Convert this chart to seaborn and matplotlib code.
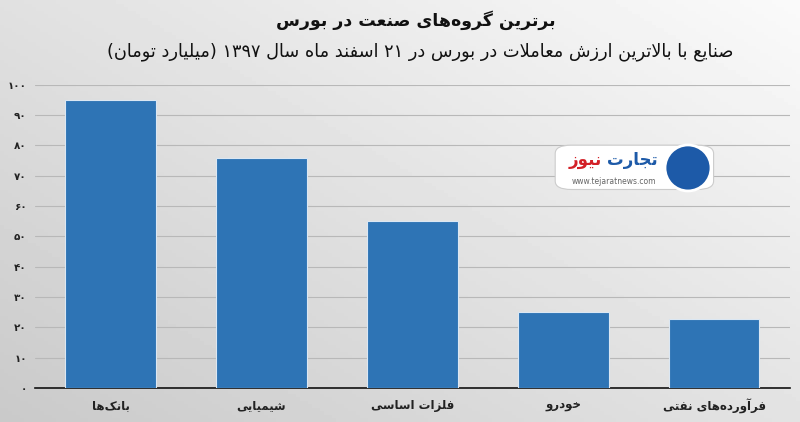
import re
import numpy as np
import pandas as pd
import matplotlib
matplotlib.use("Agg")
import matplotlib.pyplot as plt
import seaborn as sns
from matplotlib.patches import FancyBboxPatch, Ellipse

# Data
# -------------------------------------------------------------
TITLE = "برترین گروه‌های صنعت در بورس"
SUBTITLE = "صنایع با بالاترین ارزش معاملات در بورس در ۲۱ اسفند ماه سال ۱۳۹۷ (میلیارد تومان)"
INDUSTRIES = ["بانک‌ها", "شیمیایی", "فلزات اساسی", "خودرو", "فرآورده‌های نفتی"]
VALUES = [95, 76, 55, 25, 22.7]
Y_TICKS = [0, 10, 20, 30, 40, 50, 60, 70, 80, 90, 100]
BAR_COLOR = "#2e74b5"

# Simple Persian shaping (matplotlib has no RTL/joining support)
# -------------------------------------------------------------
FORMS = {  # isolated, final, initial, medial
    "ا": ("\uFE8D", "\uFE8E", None, None),
    "آ": ("\uFE81", "\uFE82", None, None),
    "ب": ("\uFE8F", "\uFE90", "\uFE91", "\uFE92"),
    "ت": ("\uFE95", "\uFE96", "\uFE97", "\uFE98"),
    "ج": ("\uFE9D", "\uFE9E", "\uFE9F", "\uFEA0"),
    "خ": ("\uFEA5", "\uFEA6", "\uFEA7", "\uFEA8"),
    "د": ("\uFEA9", "\uFEAA", None, None),
    "ر": ("\uFEAD", "\uFEAE", None, None),
    "ز": ("\uFEAF", "\uFEB0", None, None),
    "س": ("\uFEB1", "\uFEB2", "\uFEB3", "\uFEB4"),
    "ش": ("\uFEB5", "\uFEB6", "\uFEB7", "\uFEB8"),
    "ص": ("\uFEB9", "\uFEBA", "\uFEBB", "\uFEBC"),
    "ع": ("\uFEC9", "\uFECA", "\uFECB", "\uFECC"),
    "ف": ("\uFED1", "\uFED2", "\uFED3", "\uFED4"),
    "ل": ("\uFEDD", "\uFEDE", "\uFEDF", "\uFEE0"),
    "م": ("\uFEE1", "\uFEE2", "\uFEE3", "\uFEE4"),
    "ن": ("\uFEE5", "\uFEE6", "\uFEE7", "\uFEE8"),
    "ه": ("\uFEE9", "\uFEEA", "\uFEEB", "\uFEEC"),
    "و": ("\uFEED", "\uFEEE", None, None),
    "ک": ("\uFB8E", "\uFB8F", "\uFB90", "\uFB91"),
    "گ": ("\uFB92", "\uFB93", "\uFB94", "\uFB95"),
    "ی": ("\uFBFC", "\uFBFD", "\uFBFE", "\uFBFF"),
}
LAM_ALEF = {"ا": ("\uFEFB", "\uFEFC"), "آ": ("\uFEF5", "\uFEF6")}


def shape(text):
    out = []
    prev_links = False
    i = 0
    while i < len(text):
        c = text[i]
        nxt = text[i + 1] if i + 1 < len(text) else ""
        if c == "ل" and nxt in LAM_ALEF:
            out.append(LAM_ALEF[nxt][1] if prev_links else LAM_ALEF[nxt][0])
            prev_links = False
            i += 2
            continue
        if c in FORMS:
            iso, fin, ini, med = FORMS[c]
            links_next = ini is not None and nxt in FORMS
            if prev_links and links_next:
                g = med
            elif prev_links:
                g = fin
            elif links_next:
                g = ini
            else:
                g = iso
            out.append(g)
            prev_links = links_next
        else:
            if c != "\u200c":
                out.append(c)
            prev_links = False
        i += 1
    return "".join(out)


def rtl(text):
    s = shape(text)[::-1]
    s = s.translate(str.maketrans("()", ")("))
    # digit / latin runs keep left-to-right order
    return re.sub(r"[0-9\u06F0-\u06F9A-Za-z.]+", lambda m: m.group(0)[::-1], s)


def fa_digits(n):
    return str(n).translate(str.maketrans("0123456789", "۰۱۲۳۴۵۶۷۸۹"))


df = pd.DataFrame({"industry": [rtl(t) for t in INDUSTRIES], "value": VALUES})

# Plot
# -------------------------------------------------------------
sns.set_style("white")
plt.rcParams["font.family"] = ["DejaVu Sans"]

fig = plt.figure(figsize=(8, 4.22), dpi=100)

# gray gradient background
bg = fig.add_axes([0, 0, 1, 1], zorder=-10)
xx, yy = np.meshgrid(np.linspace(0, 1, 200), np.linspace(0, 1, 120))
shade = 0.79 + 0.10 * xx + 0.09 * (1 - yy)
bg.imshow(shade, cmap="gray", vmin=0, vmax=1, aspect="auto", extent=[0, 1, 0, 1])
bg.axis("off")

ax = fig.add_axes([0.044, 0.081, 0.943, 0.718])
ax.patch.set_alpha(0)
sns.barplot(data=df, x="industry", y="value", color=BAR_COLOR, width=0.6,
            saturation=1, edgecolor="#dbe7f3", linewidth=0.8, ax=ax, zorder=3)

ax.set_ylim(0, 100)
ax.set_yticks(Y_TICKS)
ax.set_yticklabels([fa_digits(v) for v in Y_TICKS], fontsize=7.5,
                   fontweight="bold", color="#222222")
ax.tick_params(axis="y", length=0, pad=6)
ax.tick_params(axis="x", length=0, pad=8, labelsize=8.5, labelcolor="#222222")
for lbl in ax.get_xticklabels():
    lbl.set_fontweight("bold")
ax.set_xlabel("")
ax.set_ylabel("")
ax.grid(axis="y", color="#b8b8b8", linewidth=0.8, zorder=0)
ax.set_axisbelow(True)
for side in ["top", "right", "left"]:
    ax.spines[side].set_visible(False)
ax.spines["bottom"].set_color("#111111")
ax.spines["bottom"].set_linewidth(1.2)

fig.text(0.52, 0.952, rtl(TITLE), ha="center", va="center",
         fontsize=12.5, fontweight="bold", color="#111111")
fig.text(0.525, 0.877, rtl(SUBTITLE), ha="center", va="center",
         fontsize=12.8, color="#111111")

# watermark logo
logo = FancyBboxPatch((0.698, 0.555), 0.19, 0.097, transform=fig.transFigure,
                      boxstyle="round,pad=0.004,rounding_size=0.02",
                      facecolor="white", edgecolor="#cccccc", linewidth=0.8, zorder=5)
fig.patches.append(logo)
fig.patches.append(Ellipse((0.860, 0.602), 46 / 800, 46 / 422, transform=fig.transFigure,
                           facecolor="#1d5aa8", edgecolor="white", linewidth=2, zorder=6))
fig.text(0.822, 0.622, rtl("تجارت"), ha="right", va="center", fontsize=12,
         fontweight="bold", color="#1d5aa8", zorder=7)
fig.text(0.752, 0.622, rtl("نیوز"), ha="right", va="center", fontsize=12,
         fontweight="bold", color="#d32027", zorder=7)
fig.text(0.768, 0.569, "www.tejaratnews.com", ha="center", va="center",
         fontsize=5.5, color="#666666", zorder=7)

plt.savefig("out.png", dpi=100)
